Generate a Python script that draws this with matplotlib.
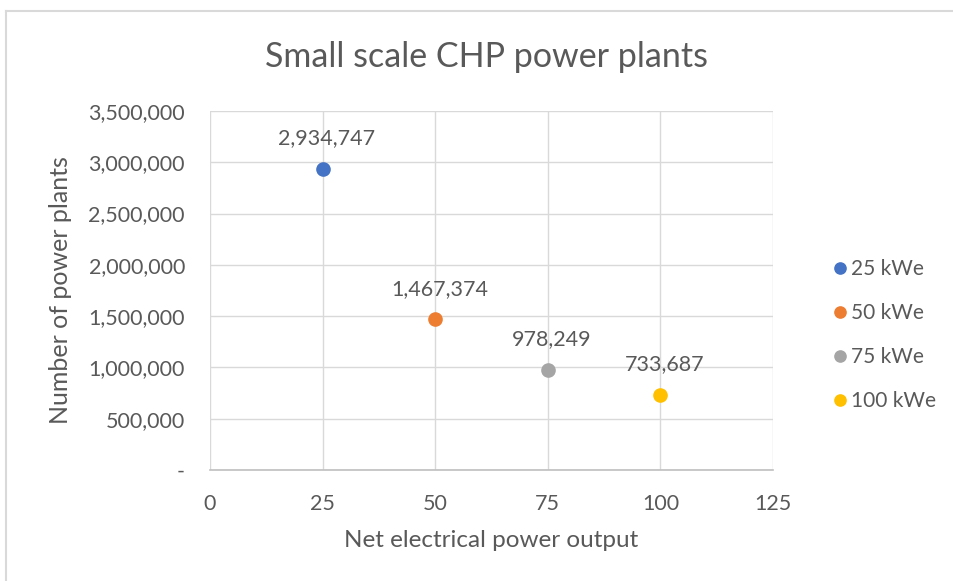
import matplotlib
matplotlib.use("Agg")
import matplotlib.pyplot as plt
from matplotlib.lines import Line2D
from matplotlib.ticker import FuncFormatter

plt.rcParams['font.family'] = ['Lato', 'DejaVu Sans']

series_names = ["25 kWe", "50 kWe", "75 kWe", "100 kWe"]
x_values = [25, 50, 75, 100]
y_values = [2934747, 1467374, 978249, 733687]
colors = ["#4472C4", "#ED7D31", "#A5A5A5", "#FFC000"]
x_ticks = [0, 25, 50, 75, 100, 125]
y_ticks = [0, 500000, 1000000, 1500000, 2000000, 2500000, 3000000, 3500000]

text_color = "#595959"

fig = plt.figure(figsize=(9.54, 5.81), dpi=100)
ax = fig.add_axes([210/954, 1-470/581, (773-210)/954, (470-111)/581])

for name, xv, yv, c in zip(series_names, x_values, y_values, colors):
    ax.plot([xv], [yv], 'o', color=c, markersize=9.5, label=name, zorder=3,
            linestyle='none')
    ax.annotate(f"{yv:,}", (xv, yv), xytext=(3, 15), textcoords='offset points',
                ha='center', va='bottom', fontsize=15.5, color=text_color)

ax.set_xlim(0, 125)
ax.set_ylim(0, 3500000)
ax.set_xticks(x_ticks)
ax.set_yticks(y_ticks)
ax.yaxis.set_major_formatter(FuncFormatter(lambda v, p: "-" if v == 0 else f"{int(v):,}"))
ax.grid(True, color="#D9D9D9", linewidth=1)
ax.set_axisbelow(True)
for s in ['top', 'right', 'left']:
    ax.spines[s].set_visible(False)
ax.spines['bottom'].set_color("#BFBFBF")
ax.spines['bottom'].set_linewidth(1.2)
ax.tick_params(axis='both', length=0, labelsize=15.5, colors=text_color)
ax.tick_params(axis='x', pad=17)
ax.tick_params(axis='y', pad=18)

ax.set_xlabel("Net electrical power output", fontsize=17.5, color=text_color, labelpad=12)
ax.set_ylabel("Number of power plants", fontsize=18, color=text_color, labelpad=12)

fig.text(487/954, 1-57/581, "Small scale CHP power plants", ha='center', va='center',
         fontsize=24.5, color=text_color)

leg = ax.legend(loc='center left', bbox_to_anchor=(1.067, 0.376), frameon=False,
                fontsize=15, labelcolor=text_color, handletextpad=0.05,
                labelspacing=1.15, markerscale=0.85, handlelength=1.0)

# outer chart border (top and left visible)
fig.add_artist(Line2D([6/954, 1], [1-11/581, 1-11/581], color="#D9D9D9", linewidth=1.5,
                      transform=fig.transFigure))
fig.add_artist(Line2D([6/954, 6/954], [0, 1-11/581], color="#D9D9D9", linewidth=1.5,
                      transform=fig.transFigure))

fig.savefig("out.png", dpi=100)
